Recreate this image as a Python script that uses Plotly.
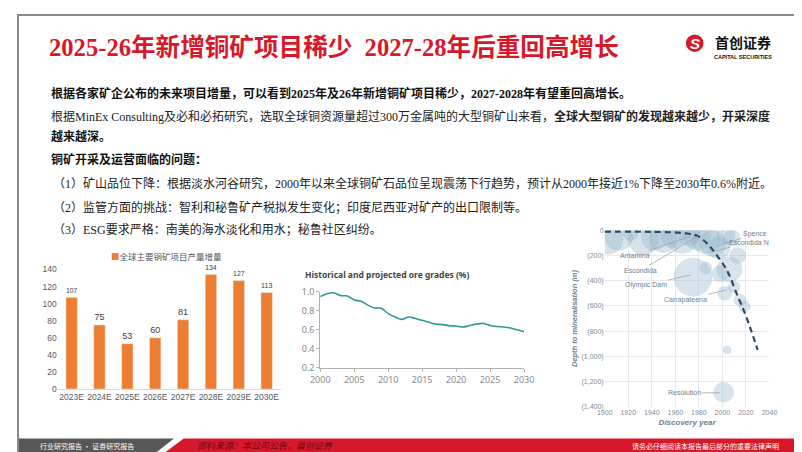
import plotly.graph_objects as go

W, H = 802, 452

# ---------------- data ----------------
bar_categories = ["2023E", "2024E", "2025E", "2026E", "2027E", "2028E", "2029E", "2030E"]
bar_values = [107, 75, 53, 60, 81, 134, 127, 113]
bar_series_name = "全球主要铜矿项目产量增量"

grade_years = list(range(2000, 2031))
grade_values = [0.95, 0.98, 0.99, 0.96, 0.955, 0.915, 0.90, 0.86, 0.83, 0.826,
                0.77, 0.735, 0.71, 0.735, 0.72, 0.70, 0.68, 0.66, 0.655, 0.643,
                0.64, 0.63, 0.645, 0.66, 0.667, 0.645, 0.635, 0.63, 0.62, 0.60, 0.58]

bubble_years = [1903, 1912, 1922, 1933, 1942, 1950, 1958, 1966, 1972, 1979, 1986, 1992, 1997, 2003, 2008,
                1986, 1975, 1998, 2006, 2013, 2002, 2010, 2015, 2019, 2004, 2001]
bubble_depths = [-70, -50, -20, -75, -55, -65, -45, -65, -35, -55, -75, -105, -140, -40, -60,
                 -300, -373, -345, -310, -200, -500, -450, -555, -605, -950, -1285]
bubble_sizes = [30, 28, 16, 30, 26, 28, 24, 30, 22, 26, 28, 26, 22, 18, 16,
                12, 38, 16, 25, 16, 14, 12, 12, 11, 8, 20]

trend_years = [1900, 1940, 1970, 1980, 1988, 1995, 2004, 2012, 2020, 2030]
trend_depths = [-10, -12, -25, -50, -115, -195, -320, -500, -680, -950]

mine_names = ["Spence", "Escondida N", "Antamina", "Escondida", "Olympic Dam", "Carrapateena", "Resolution"]
mine_years = [1995.5, 1994, 1973, 1979, 1973, 2004, 1998]
mine_depths = [-125, -165, -48, -48, -355, -472, -1290]
mine_label_dx = [38, 34, -56, -57, -45, -42, -36]
mine_label_dy = [-12, -9, 19, 34, 10, 10, 0]

depth_ticks = [0, -200, -400, -600, -800, -1000, -1200, -1400]
depth_tick_text = ["0", "(200)", "(400)", "(600)", "(800)", "(1,000)", "(1,200)", "(1,400)"]


def px(x):
    return x / W


def py(y):
    return 1 - y / H


fig = go.Figure()

# ---------------- bar chart ----------------
fig.add_trace(go.Bar(
    x=bar_categories, y=bar_values, name=bar_series_name,
    marker_color="#ED7D31", text=bar_values, textposition="outside",
    textfont=dict(size=9, color="#404040", family="Liberation Sans"),
    cliponaxis=False, xaxis="x", yaxis="y", showlegend=False,
))

# ---------------- line chart ----------------
fig.add_trace(go.Scatter(
    x=grade_years, y=grade_values, mode="lines", line=dict(color="#2f9a92", width=1.6, shape="spline"),
    xaxis="x2", yaxis="y2", showlegend=False, hoverinfo="skip",
))

# ---------------- bubble chart ----------------
fig.add_trace(go.Scatter(
    x=bubble_years, y=bubble_depths, mode="markers",
    marker=dict(size=bubble_sizes, sizemode="diameter", color="rgba(146,180,202,0.5)",
                line=dict(color="rgba(130,165,190,0.35)", width=0.6)),
    xaxis="x3", yaxis="y3", showlegend=False, hoverinfo="skip",
))
fig.add_trace(go.Scatter(
    x=trend_years, y=trend_depths, mode="lines",
    line=dict(color="#33475a", width=2.2, dash="6px,4px", shape="spline"),
    xaxis="x3", yaxis="y3", showlegend=False, hoverinfo="skip",
))

annotations = []
for name, yr, dp, dx, dy in zip(mine_names, mine_years, mine_depths, mine_label_dx, mine_label_dy):
    annotations.append(dict(
        x=yr, y=dp, xref="x3", yref="y3", text=name, showarrow=True, arrowhead=0,
        arrowwidth=0.8, arrowcolor="#9aa8b3", ax=dx, ay=dy,
        font=dict(size=7, color="#6f7f8c", family="Liberation Sans"),
    ))

BODY = "Liberation Serif, Noto Sans CJK SC"


def text(x, y, s, size=12, color="#222222", family=BODY, xanchor="left", **kw):
    annotations.append(dict(x=px(x), y=py(y), xref="paper", yref="paper", text=s, showarrow=False,
                            xanchor=xanchor, yanchor="middle", font=dict(size=size, color=color, family=family), **kw))


# title
text(30, 33, "<b>2025-26年新增铜矿项目稀少  2027-28年后重回高增长</b>", size=24.6, color="#d7182a")
# logo
text(694, 29, "<b><i>S</i></b>", size=15, color="white", family="Liberation Sans", xanchor="center")
text(744, 28, "<b>首创证券</b>", size=14, color="#111111", family="Noto Sans CJK SC", xanchor="center")
text(744, 43, "<b>CAPITAL SECURITIES</b>", size=5.5, color="#111111", family="Liberation Sans", xanchor="center")

# body text
text(32, 81, "<b>根据各家矿企公布的未来项目增量，可以看到2025年及26年新增铜矿项目稀少，2027-2028年有望重回高增长。</b>", color="#111111")
text(32, 105, "根据MinEx Consulting及必和必拓研究，选取全球铜资源量超过300万金属吨的大型铜矿山来看，<b>全球大型铜矿的发现越来越少，开采深度</b>")
text(32, 125, "<b>越来越深。</b>", color="#111111")
text(32, 149, "<b>铜矿开采及运营面临的问题：</b>", color="#111111")
text(34, 173, "（1）矿山品位下降：根据淡水河谷研究，2000年以来全球铜矿石品位呈现震荡下行趋势，预计从2000年接近1%下降至2030年0.6%附近。")
text(34, 198, "（2）监管方面的挑战：智利和秘鲁矿产税拟发生变化；印度尼西亚对矿产的出口限制等。")
text(34, 221, "（3）ESG要求严格：南美的海水淡化和用水；秘鲁社区纠纷。")

# bar chart legend
text(152, 248, f"<span style='color:#ED7D31'>■</span>{bar_series_name}", size=8.5, color="#595959",
     family="Noto Sans CJK SC", xanchor="center")

# line chart title
text(292, 267, "<b>Historical and projected ore grades (%)</b>", size=8.5, color="#444444", family="Noto Sans")

# footer texts
text(20, 443.5, "行业研究报告 · 证券研究报告", size=7, color="white", family="Noto Sans CJK SC")
text(182, 443.5, "<i>资料来源：本公司公告，首创证券</i>", size=9, color="#6a0a12", family="Noto Sans CJK SC")
text(783, 443.5, "请务必仔细阅读本报告最后部分的重要法律声明", size=7, color="white", family="Noto Sans CJK SC", xanchor="right")

shapes = [
    # logo circle
    dict(type="circle", xref="paper", yref="paper", x0=px(685), x1=px(703), y0=py(38), y1=py(20),
         fillcolor="#d7182a", line=dict(width=0), layer="below"),
    # footer
    dict(type="path", xref="paper", yref="paper",
         path=f"M 0 {py(436)} L {px(160)} {py(436)} L {px(141)} {py(451)} L 0 {py(451)} Z",
         fillcolor="#575757", line=dict(width=0), layer="below"),
    dict(type="path", xref="paper", yref="paper",
         path=f"M {px(170)} {py(436)} L 1 {py(436)} L 1 {py(451)} L {px(150)} {py(451)} Z",
         fillcolor="#d7182a", line=dict(width=0), layer="below"),
    # slide border
    dict(type="rect", xref="paper", yref="paper", x0=0, x1=1, y0=0, y1=1,
         line=dict(color="#8a8a8a", width=2), fillcolor="rgba(0,0,0,0)"),
]

fig.update_layout(
    width=W, height=H, margin=dict(l=0, r=0, t=0, b=0),
    paper_bgcolor="white", plot_bgcolor="white",
    bargap=0.59,
    showlegend=False,
    xaxis=dict(domain=[px(40.7), px(269.3)], anchor="y", showgrid=False, showline=True,
               linecolor="#d9d9d9", ticks="", tickfont=dict(size=8.5, color="#595959", family="Liberation Sans")),
    yaxis=dict(domain=[py(385), py(262)], anchor="x", range=[0, 140], dtick=20, showgrid=False,
               zeroline=False, tickfont=dict(size=8.5, color="#595959", family="Liberation Sans")),
    xaxis2=dict(domain=[px(310), px(519)], anchor="y2", range=[2000, 2030], dtick=5, showgrid=False,
                showline=True, linecolor="#b0b0b0", ticks="outside", ticklen=3, tickcolor="#b0b0b0",
                tickfont=dict(size=9, color="#8a8a8a", family="Noto Sans")),
    yaxis2=dict(domain=[py(363.3), py(285)], anchor="x2", range=[0.2, 1.0], dtick=0.2, tickformat=".1f",
                showgrid=False, zeroline=False, showline=True, linecolor="#b0b0b0", ticks="outside",
                ticklen=3, tickcolor="#b0b0b0", tickfont=dict(size=9, color="#8a8a8a", family="Noto Sans")),
    xaxis3=dict(domain=[px(601.7), px(770.7)], anchor="y3", range=[1900, 2040], dtick=20,
                showgrid=True, gridcolor="#e6eaee", zeroline=False, showline=False,
                tickfont=dict(size=7, color="#7d8c98", family="Liberation Sans"),
                title=dict(text="<b><i>Discovery year</i></b>", standoff=4,
                           font=dict(size=8, color="#6d8295", family="Liberation Sans"))),
    yaxis3=dict(domain=[py(403.3), py(221.7)], anchor="x3", range=[-1400, 0],
                tickvals=depth_ticks, ticktext=depth_tick_text,
                showgrid=True, gridcolor="#e6eaee", zeroline=False, showline=False,
                tickfont=dict(size=7, color="#7d8c98", family="Liberation Sans"),
                title=dict(text="<b><i>Depth to mineralisation (m)</i></b>", standoff=2,
                           font=dict(size=7.5, color="#6d8295", family="Liberation Sans"))),
    annotations=annotations,
    shapes=shapes,
)

fig.write_html("out.html")
